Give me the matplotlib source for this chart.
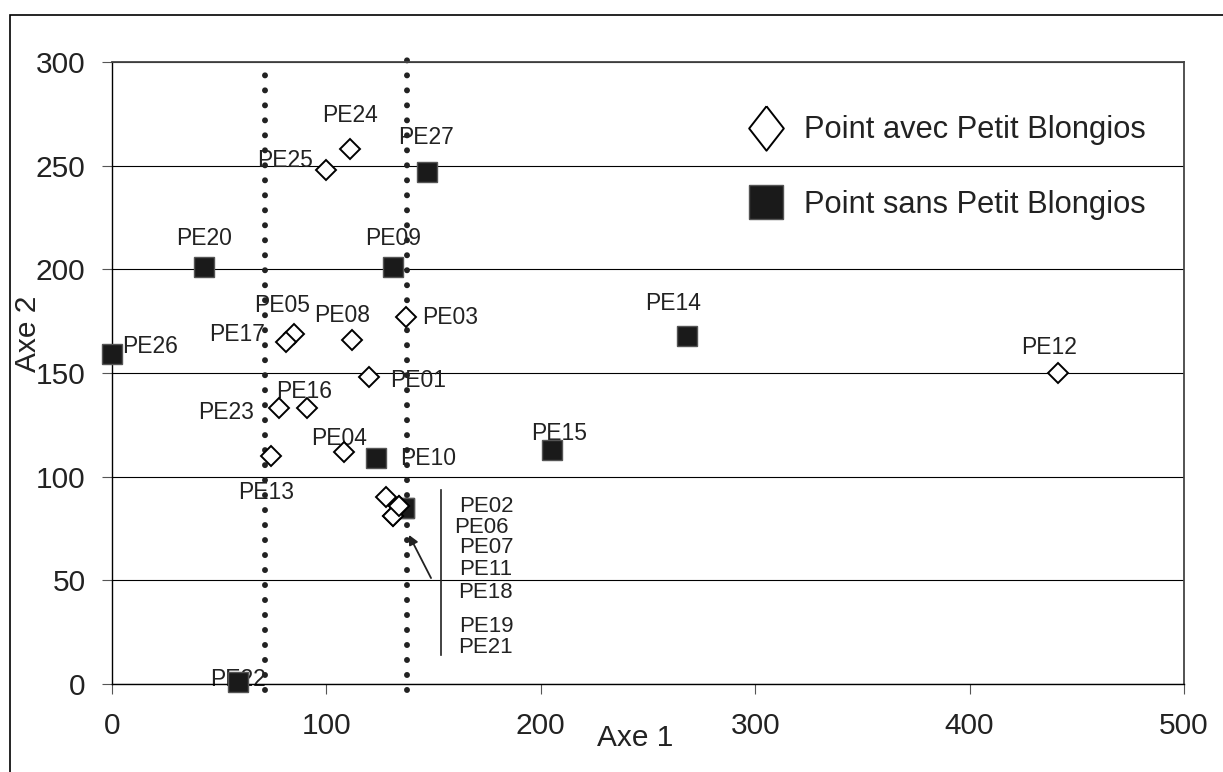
import numpy as np
import matplotlib
matplotlib.use("Agg")
import matplotlib.pyplot as plt
from matplotlib.lines import Line2D
from matplotlib.patches import Rectangle

plt.rcParams['font.family'] = ['Liberation Sans', 'DejaVu Sans']

# points avec Petit Blongios (losanges)
avec_noms = ['PE24', 'PE25', 'PE05', 'PE17', 'PE08', 'PE03', 'PE01', 'PE23',
             'PE16', 'PE13', 'PE04', 'PE12', 'PE02', 'PE06', 'PE07', 'PE18', 'PE19']
avec_x = [111, 100, 85, 81, 112, 137, 120, 78, 91, 74, 108, 441, 128, 134, 131, 131, 134]
avec_y = [258, 248, 169, 165, 166, 177, 148, 133, 133, 110, 112, 150, 90, 86, 81, 81, 86]

# points sans Petit Blongios (carres)
sans_noms = ['PE27', 'PE20', 'PE09', 'PE26', 'PE14', 'PE15', 'PE10', 'PE22', 'PE11', 'PE21']
sans_x = [147, 43, 131, 0, 268, 205, 123, 59, 136, 136]
sans_y = [247, 201, 201, 159, 168, 113, 109, 1, 85, 85]

# seuils (lignes pointillees verticales)
seuils = [71.4, 137.6]

# etiquettes du groupe serre (colonne a droite)
groupe_noms = ['PE02', 'PE06', 'PE07', 'PE11', 'PE18', 'PE19', 'PE21']

# decalage des etiquettes (points)
decal = {
    'PE24': (0, 24), 'PE25': (-30, 6.5), 'PE05': (-8.6, 20), 'PE17': (-35, 5),
    'PE08': (-7, 17.3), 'PE03': (31.7, 0), 'PE01': (35, -2.2), 'PE23': (-38, -3),
    'PE16': (-2, 12.2), 'PE13': (-3.6, -26.6), 'PE04': (-3, 9.4), 'PE12': (-6, 18),
    'PE27': (-0.7, 24.5), 'PE20': (0, 21), 'PE09': (0, 21), 'PE26': (27.4, 5.8),
    'PE14': (-10, 23), 'PE15': (5.8, 11.5), 'PE10': (37.4, 0), 'PE22': (0, 1.4),
}

fig = plt.figure(figsize=(12.23, 7.72), dpi=100)
ax = fig.add_axes([112/1223, 88/772, 1072/1223, 622/772])

ax.set_xlim(0, 500)
ax.set_ylim(0, 300)
ax.set_xticks(np.arange(0, 501, 100))
ax.set_yticks(np.arange(0, 301, 50))
ax.yaxis.grid(True, color='black', lw=0.8)
ax.set_axisbelow(True)

for s in ['left', 'bottom']:
    ax.spines[s].set_color('black')
    ax.spines[s].set_linewidth(1.0)
for s in ['top', 'right']:
    ax.spines[s].set_color('#444444')
    ax.spines[s].set_linewidth(1.3)

ax.tick_params(axis='both', direction='out', length=7, color='#555555',
               labelsize=21.5, labelcolor='#222222')
ax.tick_params(axis='y', pad=12)
ax.tick_params(axis='x', pad=13)

# lignes pointillees
for sx, top in zip(seuils, [298.6, 306.8]):
    ax.plot([sx, sx], [-3, top], linestyle=(0, (0.01, 2.5)), lw=4.3,
            dash_capstyle='round', color='#222222', clip_on=False, zorder=2)

ax.plot(sans_x, sans_y, 's', ms=14.4, mfc='#1a1a1a', mec='#555555', mew=1,
        linestyle='none', zorder=3, clip_on=False)
ax.plot(avec_x, avec_y, 'D', ms=10.5, mfc='white', mec='black', mew=1.4,
        linestyle='none', zorder=3.5, clip_on=False)

for nom, x, y in zip(avec_noms + sans_noms, avec_x + sans_x, avec_y + sans_y):
    if nom in decal:
        ax.annotate(nom, (x, y), xytext=decal[nom], textcoords='offset points',
                    ha='center', va='center', fontsize=16.5, color='#222222',
                    zorder=1.5)

# groupe serre
groupe_y = [85.6, 75.6, 65.6, 55, 43.9, 27.5, 17.4]
groupe_xt = [174.4, 172.1, 174.4, 174.4, 174.4, 174.4, 174.4]
for nom, xt, yt in zip(groupe_noms, groupe_xt, groupe_y):
    ax.text(xt, yt, nom, ha='center', va='center', fontsize=16, color='#222222')
ax.plot([153.4, 153.4], [14, 93.6], color='#222222', lw=1.2)
ax.annotate('', xy=(138.5, 71.9), xytext=(148.8, 51.1),
            arrowprops=dict(arrowstyle='-|>', color='#222222', lw=1.3,
                            mutation_scale=14, shrinkA=0, shrinkB=0))

ax.set_xlabel('Axe 1', fontsize=21.5, color='#222222', va='center')
ax.xaxis.set_label_coords(0.488, -0.087)
ax.set_ylabel('Axe 2', fontsize=21.5, color='#222222', va='center')
ax.yaxis.set_label_coords(-0.078, 0.563)

handles = [
    Line2D([], [], marker=[(0, 1), (0.78, 0), (0, -1), (-0.78, 0), (0, 1)],
           ms=32, mfc='white', mec='black', mew=1.4, linestyle='none'),
    Line2D([], [], marker='s', ms=25, mfc='#1a1a1a', mec='#555555', mew=1,
           linestyle='none'),
]
ax.legend(handles, ['Point avec Petit Blongios', 'Point sans Petit Blongios'],
          loc='center left', bbox_to_anchor=(0.596, 0.83), frameon=False,
          fontsize=22.2, handlelength=1.0, handletextpad=0.72,
          labelspacing=1.45, borderpad=0, borderaxespad=0, labelcolor='#222222')

fig.patches.append(Rectangle((10/1223, -0.05), 1.2, 1 - 15/772 + 0.05,
                             transform=fig.transFigure, fill=False,
                             ec='black', lw=1.2))

fig.savefig('out.png', dpi=100)
